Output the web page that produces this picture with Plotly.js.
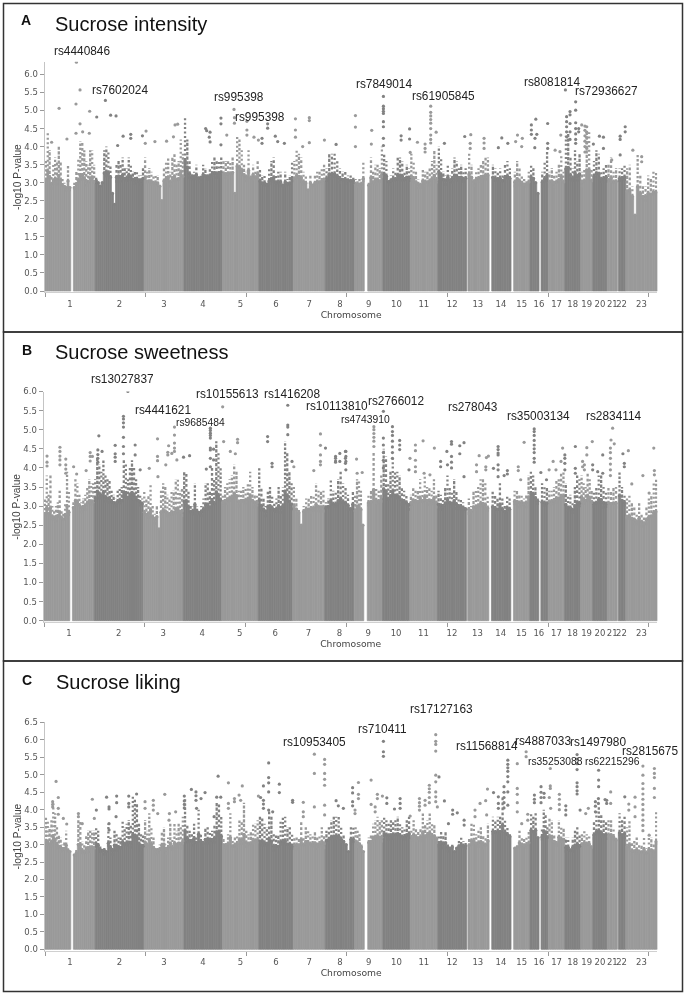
<!DOCTYPE html>
<html><head><meta charset="utf-8">
<script src="https://cdn.plot.ly/plotly-3.0.1.min.js"></script>
<style>html,body{margin:0;padding:0;background:#fff}#g{width:685px;height:995px;filter:blur(.3px)}</style>
</head><body><div id="g"></div>
<script>
// Genome layout in Mb: mapped stretches of each chromosome
const segChrom=[1,1,2,3,4,5,6,7,8,9,9,10,11,12,13,14,15,16,16,17,18,19,20,21,22,23];
const segStart=[0,141,249,492,690,881,1062,1233,1392,1538,1603,1679,1814,1951,2101,2219,2328,2409,2464,2500,2582,2661,2721,2793,2848,2885];
const segEnd=[128,249,492,690,881,1062,1233,1392,1538,1586,1679,1814,1951,2095,2206,2315,2409,2454,2500,2582,2661,2721,2793,2843,2885,3042];
const chromNames=['1','2','3','4','5','6','7','8','9','10','11','12','13','14','15','16','17','18','19','20','21','22','23'];
const chromCentres=[124,370,591,785,971,1147,1312,1465,1608,1746,1882,2023,2150,2265,2368,2454,2541,2621,2691,2757,2818,2864,2963];
const genomeTicks=[0,500,1000,1500,2000,2500,3000];

// Level of the solid body of the cloud per stretch, -log10 P
const coreA=[2.85,2.8,3.0,2.9,3.1,3.1,2.9,2.9,3.0,2.9,2.9,3.0,2.9,3.0,3.0,3.0,2.9,3.0,2.9,2.9,3.0,2.9,3.0,2.9,3.0,2.5];
const coreB=[2.6,2.9,3.0,2.6,2.8,3.0,2.8,2.8,2.9,2.7,3.0,3.0,3.0,2.9,2.8,2.8,3.0,3.1,2.9,3.0,2.8,3.0,2.9,2.9,3.0,2.5];
const coreC=[2.8,2.7,2.8,2.8,3.0,2.9,2.8,2.9,3.0,2.9,3.0,3.1,3.1,2.9,2.9,3.2,2.9,3.2,3.1,3.0,2.8,2.9,3.1,3.1,3.1,2.7];

// Top of the dense part of the cloud per stretch, -log10 P
const envA=[[3.6,4.4,3.9,3.2,3.5,3.7,3.6,4.0,3.6,3.1,3.0,2.9,3.5,2.9],[3.0,3.3,3.7,4.15,4.15,3.9,3.6,3.5,3.9,3.9,3.5],
[3.2,3.0,2.9,3.0,3.9,4.0,3.9,3.5,2.7,2.4,3.5,3.6,3.5,3.7,3.4,3.4,3.7,3.5,3.3,3.3,3.3,3.2,3.2,3.4],
[3.7,3.3,3.4,3.3,3.2,3.2,3.2,2.9,2.5,3.4,3.6,3.7,3.3,3.7,3.8,3.5,3.6,4.2,3.8],
[4.8,4.2,3.6,3.3,3.3,3.5,3.2,3.2,3.5,3.4,3.3,3.4,3.6,3.7,3.6,3.6,3.7],
[3.6,3.6,3.6,3.6,3.7,2.7,4.3,4.2,3.9,3.5,3.3,3.9,3.2,3.5,3.3,3.6],
[3.4,3.2,3.2,3.0,3.4,3.6,3.7,3.2,3.3,3.3,3.0,3.3,3.1,3.2,3.6],
[3.6,3.9,3.8,3.7,3.3,3.2,2.8,3.2,3.0,3.2,3.3,3.3,3.4,3.5],
[3.4,3.8,3.8,3.8,3.6,3.4,3.3,3.3,3.2,3.2,3.2],[3.1,3.1,3.1,3.1,3.6],[3.0,3.7,3.3,3.5,3.5,3.4,4.0],
[3.8,3.6,3.1,3.2,3.4,3.3,3.7,3.7,3.6,3.3,3.5,3.4],[3.8,3.6,3.3,3.1,3.0,3.4,3.3,3.3,3.4,3.6,3.9,3.5],
[4.0,3.7,3.3,3.2,3.5,3.2,3.4,3.7,3.6,3.4,3.5,3.3,3.4],[3.8,3.5,3.1,3.3,3.4,3.5,3.6,3.7,3.7],
[3.5,3.4,3.3,3.4,3.2,3.5,3.6,3.4],[3.3,3.6,3.4,3.2,3.1,3.1,3.3],[3.5,3.4,3.0,2.7],[3.3,3.6,3.9],
[3.3,3.4,3.2,3.3,3.5,3.8,3.3],[4.3,4.4,3.7,3.4,3.9,3.6,3.8],[3.3,3.4,4.4,4.4,3.4],[3.6,3.9,3.8,3.3,3.4,3.5],
[3.5,3.7,3.3,3.4],[3.4,3.4,3.5],[3.4,3.5,2.9,2.1,3.8,3.2,2.9,2.9,3.2,3.1,3.3,3.3]];
const envB=[[3.2,3.8,3.3,3.8,3.0,2.9,3.0,3.1,3.4,2.9,2.8,3.1,3.9,3.4],[3.1,3.7,3.6,3.3,3.1,3.2,3.3,3.5,3.7,3.6,3.6],
[3.7,4.3,4.1,3.9,4.2,3.8,3.7,3.7,3.4,3.3,3.2,3.4,3.5,3.5,4.2,4.1,3.7,4.0,4.2,4.0,3.7,3.5,3.3,3.2],
[3.4,3.2,3.3,3.6,3.0,2.8,3.0,2.4,3.4,3.6,3.5,3.3,3.2,3.4,3.4,3.7,3.7,3.4,3.5],
[3.9,3.9,3.4,3.0,3.0,3.6,3.0,2.9,3.0,3.2,3.6,3.6,3.4,4.0,3.7,4.7,4.4,4.0],
[3.3,3.5,3.6,3.7,3.8,4.1,3.9,3.4,3.4,3.5,3.5,3.6,3.9,3.5,3.3,3.3],
[4.0,3.5,3.2,3.0,3.4,3.5,3.3,3.1,3.2,3.5,3.3,3.5,4.7,4.4,3.9,3.6],
[3.5,3.2,2.9,2.5,3.0,3.2,3.2,3.3,3.3,3.6,3.4,3.4,3.4],
[3.1,3.2,3.7,3.4,3.4,3.7,3.9,3.6,3.5,3.3,3.0,3.4],[3.3,3.7,3.7,3.4,2.5],[3.3,3.4,4.4,3.5,3.4,3.8],
[4.5,4.3,3.6,3.9,4.3,3.9,3.9,3.8,3.5,3.4,3.3,3.1],[3.3,3.5,3.4,3.4,3.7,3.4,3.8,3.5,3.5,3.4,3.7,3.3],
[3.4,3.3,3.2,3.5,3.8,3.5,3.4,3.7,3.4,3.2,3.2,3.1,3.0],[3.2,3.0,3.4,3.4,3.5,3.7,3.7,3.6,3.3],
[3.4,3.3,3.2,3.6,3.2,3.0,3.3,3.2],[3.4,3.4,3.3,3.3,3.2,3.3,3.8],[3.9,3.8,3.5,3.2],[3.6,3.5,3.5],
[3.4,3.4,3.5,3.7,3.7,3.9,3.9],[3.6,3.3,3.3,3.1,3.5,3.8,3.7],[3.8,3.6,3.5,3.9,3.7,3.4],[3.4,3.5,3.8,3.8,3.5,3.4],
[3.5,3.4,3.5,3.5],[3.9,3.5,3.3],[3.2,3.3,3.1,3.0,2.8,3.1,2.8,2.7,3.0,3.2,3.3,3.6,3.7]];
const envC=[[3.8,3.7,3.5,3.7,4.2,3.9,3.5,3.3,3.2,3.0,3.1,3.4,2.9,2.8],[2.7,2.9,3.7,3.7,3.1,3.0,3.3,3.4,3.4,3.4,3.4],
[3.5,3.4,3.0,2.9,2.9,2.8,3.6,3.2,2.9,3.4,3.3,3.2,3.2,3.7,3.5,3.6,3.7,3.6,4.4,4.3,4.2,3.6,3.3,3.3],
[3.7,3.4,3.9,3.5,3.2,2.9,2.9,3.0,3.4,3.5,3.0,3.2,3.6,3.2,3.6,3.4,3.6,3.5,3.8],
[4.3,3.6,3.4,3.3,3.6,3.2,4.0,3.3,3.1,3.5,3.5,3.4,3.4,3.6,4.2,4.2,3.8],
[3.2,3.1,3.3,3.9,3.1,3.2,3.3,3.7,3.7,4.2,3.4,3.3,3.4,3.6,3.6,3.7],
[3.8,3.8,3.6,3.5,4.0,3.8,3.3,3.3,3.3,3.7,3.8,3.8,3.5,3.5,3.3],
[3.2,3.2,3.2,3.7,3.2,3.5,3.4,3.3,3.3,3.4,3.2,3.3,3.5,3.3],
[3.4,3.5,3.7,3.8,3.8,3.8,3.5,3.3,3.0,2.8,3.5,3.5],[3.5,3.4,3.3,3.0,2.8],[3.2,3.3,3.6,3.7,3.8,3.7,3.7],
[3.8,3.7,3.6,3.7,3.7,3.7,3.8,3.6,3.5,3.5,3.7,3.8],[3.4,3.7,3.5,3.4,3.5,3.9,3.6,3.7,3.9,3.6,3.6,3.3],
[3.3,3.4,3.3,3.4,3.0,2.9,3.0,2.8,2.9,3.1,3.2,3.1,3.1],[3.2,3.6,3.6,3.3,3.4,3.5,3.3,3.2,3.6],
[3.8,3.7,3.8,3.8,4.4,3.7,3.5,3.3],[2.9,3.0,3.4,3.2,3.2,3.2,3.4],[3.9,3.8,3.9,3.2],[3.5,4.0,3.9,3.5],
[3.8,3.7,3.3,3.1,3.7,3.5,3.5],[3.2,3.2,2.9,3.2,3.4,3.5,3.3],[3.3,3.4,3.3,3.3,3.0],[3.7,4.0,4.1,3.9,3.7,3.7],
[3.7,3.7,3.5,3.2],[3.9,3.7,3.8],[3.5,3.7,3.1,3.1,3.2,3.0,3.0,3.2,2.9,3.2,3.2,3.0,4.0]];

// Individual SNPs above the cloud: [position Mb, [-log10 P ...]]
const dotsA=[[156,[6.34]],[174,[5.57,4.63]],[154,[5.18,4.37]],[70,[5.06]],[222,[4.98]],[300,[5.28]],[257,[4.82]],[326,[4.87]],[353,[4.85]],[187,[4.41]],[220,[4.37]],[109,[4.21]],[33,[4.12]],[388,[4.29]],[426,[4.34,4.23]],[484,[4.3]],[502,[4.43]],[546,[4.14]],[498,[4.09]],[361,[4.03]],[604,[4.15]],[638,[4.27]],[646,[4.6]],[659,[4.62]],[798,[4.5]],[803,[4.44]],[820,[4.4,4.13]],[816,[4.26]],[874,[4.79,4.63,4.05]],[903,[4.32]],[939,[5.03]],[941,[4.8,4.65]],[1003,[4.7,4.46,4.32]],[1038,[4.26]],[1060,[4.18]],[1106,[4.63,4.51]],[1078,[4.23,4.09]],[1144,[4.29]],[1156,[4.14]],[1189,[4.09]],[1244,[4.77,4.46,4.26]],[1313,[4.8,4.72,4.11]],[1280,[4.0]],[1388,[4.18]],[1446,[4.06]],[1542,[4.86,4.54,4.0]],[1623,[4.45]],[1621,[4.07]],[1681,[5.39,5.12,5.05,4.98,4.92,4.69,4.55,4.23,4.03]],[1769,[4.3,4.18]],[1811,[4.49,4.21]],[1814,[3.84]],[1850,[4.12]],[1916,[5.12,4.95,4.85,4.75,4.65,4.5,4.32,4.2,4.1]],[1888,[4.07,3.95,3.85]],[1943,[4.4]],[1984,[4.09]],[2085,[4.28]],[2115,[4.33]],[2112,[4.09,3.95]],[2181,[4.23,4.1,3.95]],[2269,[4.24]],[2252,[3.97]],[2299,[4.09]],[2338,[4.14]],[2347,[4.32]],[2371,[4.23]],[2368,[4.0]],[2416,[4.6,4.46,4.34]],[2438,[4.76]],[2443,[4.34]],[2434,[4.23]],[2433,[3.97]],[2497,[4.64,4.09,3.95]],[2534,[3.9]],[2562,[4.32]],[2558,[3.86]],[2585,[5.57]],[2636,[5.24,5.01,4.66,4.5,4.35,4.2,4.09]],[2608,[4.97,4.88,4.64,4.41,4.2]],[2591,[4.83,4.69,4.55,4.41,4.27]],[2651,[4.5,4.41]],[2666,[4.6]],[2682,[4.57,4.45,4.3,4.15,4.0,3.85]],[2691,[4.55,4.4,4.25,4.1,3.95]],[2724,[4.07]],[2754,[4.29]],[2774,[4.26,3.95]],[2815,[3.63]],[2857,[4.29,4.2,3.77]],[2882,[4.55,4.41]],[2920,[3.9]],[2964,[3.72,3.58]]];
const dotsB=[[416,[6.0]],[394,[5.35,5.28,5.18,5.07,4.8,4.56,4.37]],[272,[4.84]],[353,[4.59,4.37,4.28,4.17]],[452,[4.6,4.34]],[15,[4.31,4.15,4.05]],[79,[4.54,4.43,4.31,4.21,4.08]],[108,[4.23,4.08,3.97,3.86]],[147,[4.03]],[162,[3.84]],[209,[3.93]],[229,[4.4,4.3,4.18]],[240,[4.3]],[267,[4.47,4.35,4.25,4.15]],[288,[4.43]],[477,[3.95]],[522,[3.99]],[563,[4.76,4.3,4.19]],[565,[3.77]],[604,[4.08]],[618,[4.58]],[614,[4.41,4.34]],[634,[4.38]],[647,[5.07,4.86,4.65,4.52,4.43]],[659,[4.21]],[692,[4.28]],[722,[4.32]],[805,[3.97]],[825,[5.04,4.98,4.91,4.85,4.78,4.52,4.47,4.25,4.03]],[841,[4.49,4.21]],[886,[5.6]],[891,[4.69]],[924,[4.43]],[949,[4.37]],[960,[4.75,4.66]],[1109,[4.82,4.69]],[1131,[4.12,4.03]],[1209,[5.64,5.12,5.07,4.87]],[1230,[4.17]],[1239,[4.03]],[1371,[4.89,4.59,4.34,4.17,4.08]],[1396,[4.52]],[1338,[3.93]],[1446,[4.3,4.25,4.18,4.15]],[1467,[4.38,4.17]],[1495,[4.43,4.25,4.12]],[1497,[4.43,4.3,4.17,3.95]],[1550,[4.23]],[1578,[3.88]],[1553,[3.86]],[1636,[5.08,5.0,4.9,4.8,4.7,4.56]],[1683,[5.48,4.78,4.6,4.4,4.2,4.0]],[1728,[5.08,4.95,4.85,4.7,4.55,4.4,4.25]],[1764,[4.72,4.6,4.48]],[1815,[4.25]],[1810,[3.95]],[1842,[4.6,4.45,4.2,4.03,3.9]],[1880,[4.71]],[1885,[3.86]],[1914,[3.82]],[1936,[4.52]],[1967,[4.17,4.03]],[2001,[4.08]],[1998,[4.43]],[2021,[4.69,4.62,4.3,4.15,4.0]],[2062,[4.58,4.37]],[2083,[4.66,3.77]],[2158,[4.32]],[2145,[4.08,3.9]],[2194,[4.27]],[2204,[4.31]],[2191,[4.03,3.95]],[2252,[4.56,4.48,4.39,4.34,4.08,3.95,3.77]],[2282,[3.8]],[2298,[3.93,3.84]],[2229,[3.99]],[2352,[4.03,3.93]],[2381,[4.67]],[2364,[3.69]],[2431,[5.02,4.95,4.85,4.72,4.6,4.5,4.4,4.25,4.15]],[2464,[3.88]],[2492,[3.69]],[2525,[4.17]],[2505,[3.95]],[2539,[3.95]],[2564,[4.17]],[2572,[4.52]],[2583,[4.34,4.25,4.12,3.95]],[2635,[4.56,3.99,3.86]],[2692,[4.53,4.34]],[2671,[4.17,4.03]],[2680,[4.08,3.95]],[2719,[4.69]],[2721,[4.08,3.95]],[2771,[4.34,3.86]],[2746,[3.9]],[2820,[5.04]],[2812,[4.73]],[2828,[4.63]],[2809,[4.52,4.4,4.25,4.1,3.95,3.8]],[2871,[4.37]],[2898,[4.45]],[2878,[4.12,4.03]],[2915,[3.58]],[2970,[3.8]],[3001,[3.34]],[3024,[4.52]],[3027,[3.93,3.82]]];
const dotsC=[[55,[4.81]],[66,[4.35,4.04,3.87]],[38,[4.23,4.15,4.08]],[91,[3.75]],[108,[3.59]],[166,[3.89,3.8]],[185,[3.6]],[235,[4.3]],[255,[3.99]],[245,[3.75]],[306,[4.36]],[318,[4.08,4.02,3.6,3.42]],[356,[4.39,4.2]],[353,[3.8]],[416,[4.39,4.18,4.08]],[455,[4.45]],[497,[4.23,4.04]],[538,[4.27,4.13,3.99]],[560,[3.89]],[595,[4.44]],[618,[3.89]],[649,[3.94]],[616,[3.7]],[692,[4.39,4.25,4.15,4.05]],[727,[4.58]],[750,[4.51,4.4,4.27]],[753,[4.04]],[775,[4.32]],[795,[4.49]],[860,[4.96]],[853,[4.36]],[873,[4.36]],[840,[3.8]],[911,[4.77,4.18,4.04]],[941,[4.32,4.23]],[964,[4.42]],[980,[4.68]],[972,[4.27]],[1111,[5.34,4.92,4.77,4.51,3.99]],[1085,[4.68,4.27,4.16,4.04]],[1164,[4.73,4.49]],[1060,[4.39]],[1071,[4.35]],[1131,[3.94]],[1230,[4.27,4.21]],[1283,[4.21,3.94,3.8]],[1338,[5.59,5.04,4.08]],[1389,[5.44,5.3,5.04,4.87,4.7,4.13,3.85]],[1446,[4.26]],[1457,[4.11]],[1482,[4.04]],[1528,[4.63,4.48,4.23,4.11]],[1557,[4.78,4.44,4.32]],[1540,[3.99,3.89]],[1620,[4.85,4.15]],[1651,[4.44,4.32]],[1676,[4.39]],[1698,[4.34,4.18]],[1640,[4.08,3.94]],[1681,[5.96,5.66,5.53]],[1764,[4.32,4.18,4.04]],[1736,[4.02]],[1814,[3.82]],[1860,[4.32,4.2,4.1,3.99]],[1909,[4.7,4.6,4.5,4.35,4.2]],[1888,[4.27,4.13]],[1941,[6.56,6.15,5.96,5.87,5.68,4.99,4.8,4.51,4.37,4.23]],[1957,[4.94]],[1949,[4.08]],[1984,[4.25]],[2025,[3.99,3.87]],[2048,[3.91]],[2004,[3.6]],[2082,[3.7,3.56]],[2136,[3.99,3.8]],[2161,[4.18]],[2189,[4.26]],[2198,[4.59]],[2194,[3.85]],[2228,[4.49]],[2252,[4.37,4.18,4.04]],[2280,[4.66,4.5,4.35,4.2,4.05]],[2299,[5.42,5.3,5.2,5.1,4.95,4.8,4.51,4.13]],[2346,[5.32,4.61,4.44,4.2,3.94]],[2390,[5.66,5.52]],[2368,[3.6]],[2398,[3.87,3.7]],[2431,[4.42,4.3,4.2]],[2464,[4.66,4.5,4.35,4.2]],[2479,[4.47,4.35]],[2510,[5.18,4.68,4.61]],[2505,[4.35]],[2512,[4.04]],[2555,[4.44,4.3,4.15,4.0]],[2587,[4.11,3.99,3.85]],[2643,[5.58,5.45,5.32,5.15,4.77,4.66,4.54,4.45]],[2658,[3.99]],[2686,[3.89]],[2699,[4.04]],[2750,[5.13,4.85,4.66]],[2810,[4.51,4.18]],[2790,[4.27,4.18]],[2782,[4.29]],[2734,[4.23,4.1,3.94]],[2749,[4.32,4.18]],[2880,[4.37]],[2900,[4.16,3.99]],[2931,[4.36,4.08,3.8]],[2970,[5.25,4.99,4.75,4.6,4.45,4.3,4.15,4.0,3.85,3.7,3.55,3.4]],[3001,[3.27]],[3027,[5.18,5.04,4.92,4.61,4.35]]];

const titleText=['Sucrose intensity','Sucrose sweetness','Sucrose liking'];
const panelLetter=['A','B','C'];
const snpA=['rs4440846','rs7602024','rs995398','rs995398','rs7849014','rs61905845','rs8081814','rs72936627'];
const snpB=['rs13027837','rs4441621','rs9685484','rs10155613','rs1416208','rs10113810','rs4743910','rs2766012','rs278043','rs35003134','rs2834114'];
const snpC=['rs10953405','rs710411','rs17127163','rs11568814','rs4887033','rs1497980','rs2815675','rs35253088','rs62215296'];
const yTicksA=[0,.5,1,1.5,2,2.5,3,3.5,4,4.5,5,5.5,6];
const yTicksC=[0,.5,1,1.5,2,2.5,3,3.5,4,4.5,5,5.5,6,6.5];

// ---- page geometry (px) ----
const W=685,H=995,LIGHT='#9a9a9a',DARK='#828282';
const geom=[{y0:291,unit:36.1,top:6.35,x0:45,ticks:yTicksA},{y0:620.7,unit:38.2,top:6.0,x0:44,ticks:yTicksA},{y0:949.3,unit:34.9,top:6.5,x0:45,ticks:yTicksC}];
const xEnd=3042, xRight=657.4, below=0.04;
const snpPos=[
 [[54,51],[92.3,89.5],[214,97],[234.5,117],[355.7,84],[412,96],[524,82],[575.3,91]],
 [[91,379.3],[134.7,410],[175.7,422.3],[196,394],[263.7,394],[306,406],[341,419.3],[368.3,401],[447.7,407],[507.3,416],[586.3,416]],
 [[282.7,742],[358.3,729.3],[410,709],[455.7,746.3],[515,741.3],[570,741.7],[622.3,751],[527.7,761.7],[585.3,761.3]]];
const smallSnp={rs9685484:1,rs4743910:1,rs35253088:1,rs62215296:1};
const titlePos=[[53,24],[53,352],[54,682]], letterPos=[[19,20],[20,350],[20,680]];
const frames=[[3.5,3.5,682.5,332],[3.5,332,682.5,661],[3.5,661,682.5,991.5]];
// dash styling for the speckled upper part of each column
const dashStyles=['2.4px,1.8px','3.2px,1.4px','2px,2.4px','2.8px,2.2px'];
const dashPhase=[0,0.05,0.1,0.15];
const dashOrder=[0,2,1,3,2,0,3,1,3,0,1,2];

function colourOf(chr){return chr%2?LIGHT:DARK;}
function chromAt(x){let c=1;for(let i=0;i<segStart.length;i++)if(x>=segStart[i]-1)c=segChrom[i];return c;}

const traces=[],layout={width:W,height:H,margin:{l:0,r:0,t:0,b:0},paper_bgcolor:'#fff',plot_bgcolor:'#fff',showlegend:false,barmode:'overlay',shapes:[],annotations:[]};
const envs=[envA,envB,envC],cores=[coreA,coreB,coreC],dots=[dotsA,dotsB,dotsC],snps=[snpA,snpB,snpC];
geom.forEach((g,p)=>{
  const sfx=p?String(p+1):'';
  const bx=[],by=[],bw=[],bc=[];
  const col={};
  [LIGHT,DARK].forEach(c=>col[c]=dashStyles.map(()=>({x:[],y:[]})));
  let n=0;
  envs[p].forEach((arr,s)=>{const w=(segEnd[s]-segStart[s])/arr.length, c=colourOf(segChrom[s]), core=cores[p][s];
    arr.forEach((v,i)=>{const x=segStart[s]+(i+.5)*w, top=v>core?core+.3*(v-core):v;
      bx.push(x);by.push(top);bw.push(w);bc.push(c);
      if(v>core){const k=dashOrder[n++%dashOrder.length];col[c][k].x.push(x,x,null);col[c][k].y.push(top-dashPhase[k],v,null);}
    });});
  traces.push({type:'bar',x:bx,y:by,width:bw,marker:{color:bc,line:{width:.7,color:bc}},xaxis:'x'+sfx,yaxis:'y'+sfx,hoverinfo:'skip'});
  traces.push({type:'scatter',mode:'markers',x:bx,y:by,marker:{size:3.4,color:bc},xaxis:'x'+sfx,yaxis:'y'+sfx,hoverinfo:'skip'});
  [LIGHT,DARK].forEach(c=>dashStyles.forEach((d,k)=>traces.push({type:'scatter',mode:'lines',x:col[c][k].x,y:col[c][k].y,line:{color:c,width:2.3,dash:d},connectgaps:false,xaxis:'x'+sfx,yaxis:'y'+sfx,hoverinfo:'skip'})));
  const dx=[],dy=[],dc=[];
  dots[p].forEach(([x,vals])=>vals.forEach(v=>{dx.push(x);dy.push(v);dc.push(colourOf(chromAt(x)));}));
  traces.push({type:'scatter',mode:'markers',x:dx,y:dy,marker:{size:3.2,color:dc},xaxis:'x'+sfx,yaxis:'y'+sfx,hoverinfo:'skip'});
  const botPx=g.y0+below*g.unit, topPx=g.y0-g.top*g.unit;
  layout['xaxis'+sfx]={domain:[g.x0/W,xRight/W],range:[0,xEnd],anchor:'y'+sfx,tickmode:'array',tickvals:chromCentres,ticktext:chromNames,
    ticks:'',tickangle:0,ticklabelstandoff:3,tickfont:{family:'DejaVu Sans',size:8.5,color:'#555'},showgrid:false,zeroline:false,showline:true,linecolor:'#d0d0d0',linewidth:1,
    minor:{tickmode:'array',tickvals:genomeTicks,ticks:'outside',ticklen:4,tickcolor:'#999',tickwidth:1,showgrid:false},
    title:{text:'Chromosome',font:{family:'DejaVu Sans',size:9.2,color:'#444'},standoff:0},automargin:false,fixedrange:true};
  layout['yaxis'+sfx]={domain:[1-botPx/H,1-topPx/H],range:[-below,g.top],anchor:'x'+sfx,tickmode:'array',tickvals:g.ticks,ticktext:g.ticks.map(v=>v.toFixed(1)),
    ticks:'outside',ticklen:4,tickcolor:'#999',tickwidth:1,tickfont:{family:'DejaVu Sans',size:8.5,color:'#555'},showgrid:false,zeroline:false,showline:true,linecolor:'#c4c4c4',linewidth:1.5,
    title:{text:'-log10 P-value',font:{family:'Liberation Sans',size:10.2,color:'#444'},standoff:0},automargin:false,fixedrange:true};
  layout.shapes.push({type:'rect',xref:'paper',yref:'paper',x0:frames[p][0]/W,x1:frames[p][2]/W,y0:1-frames[p][1]/H,y1:1-frames[p][3]/H,line:{color:'#333',width:1.5},fillcolor:'rgba(0,0,0,0)'});
  layout.annotations.push({xref:'paper',yref:'paper',x:titlePos[p][0]/W,y:1-titlePos[p][1]/H,xanchor:'left',yanchor:'middle',showarrow:false,text:titleText[p],font:{family:'Liberation Sans',size:20,color:'#111'}});
  layout.annotations.push({xref:'paper',yref:'paper',x:letterPos[p][0]/W,y:1-letterPos[p][1]/H,xanchor:'left',yanchor:'middle',showarrow:false,text:'<b>'+panelLetter[p]+'</b>',font:{family:'Liberation Sans',size:14,color:'#111'}});
  snps[p].forEach((t,i)=>layout.annotations.push({xref:'paper',yref:'paper',x:snpPos[p][i][0]/W,y:1-snpPos[p][i][1]/H,xanchor:'left',yanchor:'middle',showarrow:false,xshift:-2,text:t,font:{family:'Liberation Sans',size:smallSnp[t]?10.3:11.85,color:'#222'}}));
});
Plotly.newPlot('g',traces,layout,{displayModeBar:false,staticPlot:true});
</script></body></html>
